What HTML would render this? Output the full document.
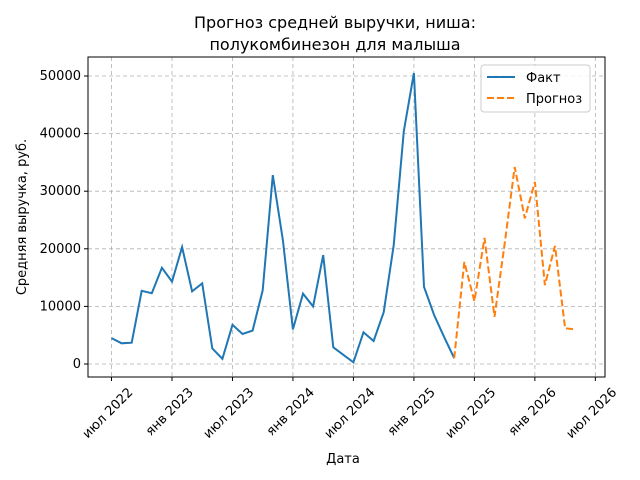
<!DOCTYPE html>
<html><head><meta charset="utf-8"><style>
body{margin:0;background:#fff;}
svg{display:block;font-family:"DejaVu Sans","Liberation Sans",sans-serif;}
</style></head><body>
<svg id="chart" width="640" height="480" viewBox="0 0 640 480">
<rect width="640" height="480" fill="#fff"/>
<text x="335" y="28" font-size="16" text-anchor="middle">Прогноз средней выручки, ниша:</text>
<text x="335" y="50" font-size="16" text-anchor="middle">полукомбинезон для малыша</text>
<g id="grid"></g>
<g id="yaxis"></g>
<g id="xaxis"></g>
<g id="series"></g>
<rect x="88" y="57" width="517" height="320" fill="none" stroke="#000" stroke-width="1"/>
<text x="343" y="463" font-size="13" text-anchor="middle">Дата</text>
<text transform="translate(26,217) rotate(-90)" font-size="13" text-anchor="middle">Средняя выручка, руб.</text>
<g>
<rect x="481" y="65" width="109" height="47" rx="3" fill="#fff" fill-opacity="0.8" stroke="#ccc"/>
<line x1="487" y1="77" x2="515" y2="77" stroke="#1f77b4" stroke-width="2"/>
<text x="526" y="82" font-size="13">Факт</text>
<line x1="487" y1="98" x2="515" y2="98" stroke="#ff7f0e" stroke-width="2" stroke-dasharray="7,3"/>
<text x="526" y="103" font-size="13">Прогноз</text>
</g>
</svg>
<script>
const factValues=[4500,3600,3700,12700,12300,16700,14300,20300,12600,14000,2700,900,6800,5200,5800,12800,32800,21500,6000,12200,10000,18900,2900,1600,300,5500,4000,9000,20600,40400,50500,13400,8500,4700,1000];
const forecastValues=[1000,17700,10900,21900,8200,20800,34200,25300,31600,13700,20500,6200,6000];
const forecastStart=34;
const yTicks=[0,10000,20000,30000,40000,50000];
const xTickMonths=[0,6,12,18,24,30,36,42,48];
const xTickLabels=["июл 2022","янв 2023","июл 2023","янв 2024","июл 2024","янв 2025","июл 2025","янв 2026","июл 2026"];
const NS="http://www.w3.org/2000/svg";
function xs(m){return 111.5+m*10.08;}
function ys(v){return 364-v*0.005760;}
function mk(tag,attrs,parent){const e=document.createElementNS(NS,tag);for(const k in attrs)e.setAttribute(k,attrs[k]);parent.appendChild(e);return e;}
const grid=document.getElementById('grid'),ya=document.getElementById('yaxis'),xa=document.getElementById('xaxis'),ser=document.getElementById('series');
yTicks.forEach(v=>{
 const y=ys(v);
 const g=mk('line',{x1:88,x2:605,y1:y,y2:y,stroke:'#b0b0b0','stroke-dasharray':'4,3','stroke-width':0.8},grid);
 
 
 const t=mk('line',{x1:84,x2:88,y1:y,y2:y,stroke:'#000'},ya);
 
 
 const l=mk('text',{x:81,y:y+4,'font-size':13,'text-anchor':'end'},ya);
 l.textContent=v;
 
 
});
xTickMonths.forEach((m,i)=>{
 const x=xs(m);
 const g=mk('line',{x1:x,x2:x,y1:57,y2:377,stroke:'#b0b0b0','stroke-dasharray':'4,3','stroke-width':0.8},grid);
 
 
 const t=mk('line',{x1:x,x2:x,y1:377,y2:381,stroke:'#000'},xa);
 
 
 const l=mk('text',{transform:`translate(${x+22},${393}) rotate(-45)`,'font-size':13,'text-anchor':'end'},xa);
 l.textContent=xTickLabels[i];
 
 
});
const fp=factValues.map((v,i)=>xs(i).toFixed(1)+','+ys(v).toFixed(1)).join(' ');
const f=mk('polyline',{points:fp,fill:'none',stroke:'#1f77b4','stroke-width':2},ser);


const pp=forecastValues.map((v,i)=>xs(forecastStart+i).toFixed(1)+','+ys(v).toFixed(1)).join(' ');
const p=mk('polyline',{points:pp,fill:'none',stroke:'#ff7f0e','stroke-width':2,'stroke-dasharray':'7,3'},ser);


</script>
</body></html>
